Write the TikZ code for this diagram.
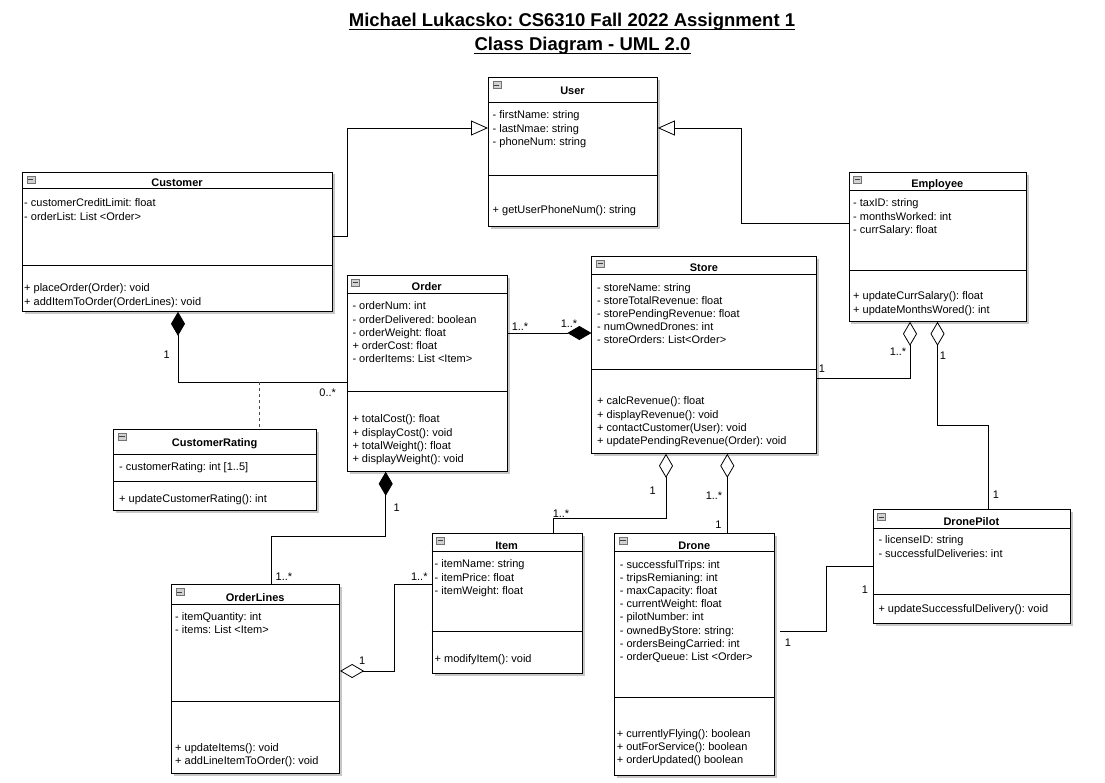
\documentclass[tikz,border=0pt]{standalone}
\usepackage{fontspec}
\setmainfont{Liberation Sans}
\usetikzlibrary{arrows.meta,shadows,calc}

\tikzset{
 classbox/.style={draw=black, fill=white, line width=0.8pt, inner sep=0pt,
   drop shadow={shadow xshift=2.5pt, shadow yshift=-2.5pt, opacity=0.22, fill=black}},
 sepline/.style={draw=black, line width=0.8pt},
 iconbox/.style={draw=black!55, fill=black!18, line width=0.5pt, inner sep=0pt, minimum width=8pt, minimum height=7pt},
 txt/.style={inner sep=0pt, font=\fontsize{11}{13.2}\selectfont\frenchspacing, text=black},
 ttl/.style={inner sep=0pt, font=\fontsize{11}{13.2}\selectfont\bfseries, text=black},
 conn/.style={draw=black, line width=0.8pt},
 gen/.style={conn, -{Triangle[open, length=17pt, width=15pt]}},
 comp/.style={conn, {Diamond[length=24pt, width=14pt]}-},
 agg/.style={conn, {Diamond[open, length=24pt, width=14pt]}-},
 mult/.style={txt, anchor=base},
 hdr/.style={inner sep=0pt, font=\fontsize{18.5}{22}\selectfont\bfseries\frenchspacing, anchor=base},
 dep/.style={draw=black!70, line width=0.8pt, dash pattern=on 3pt off 3pt},
}

% name, left, top, right, bottom, header line, divider, title y, title
\newcommand\umlclass[9]{%
 \node[classbox, anchor=north west, minimum width={#4-#2}, minimum height={#5-#3}] (#1) at (#2,#3) {};
 \draw[sepline] (#2,#6) -- (#4,#6);
 \draw[sepline] (#2,#7) -- (#4,#7);
 \node[iconbox, anchor=north west] (#1-icon) at ({#2+4.5},{#3+4}) {};
 \draw[black!75, line width=0.6pt] ($(#1-icon.west)+(1.6,0)$) -- ($(#1-icon.east)+(-1.6,0)$);
 \node[ttl, anchor=base] (#1-title) at ({(#2+#4)/2},{#8+4}) {#9};
}
% prefix, x, first y, list
\newcommand\umllines[4]{%
 \foreach \x [count=\i] in {#4} {\node[txt, anchor=base west] (#1-\i) at (#2,{#3+3.8+(\i-1)*13.2}) {\x};}
}

\begin{document}
\frenchspacing
\begin{tikzpicture}[x=1pt, y=-1pt]
\useasboundingbox[fill=white] (0,0) rectangle (1105,782);

% title
\node[hdr] (title1) at (572,26) {Michael Lukacsko: CS6310 Fall 2022 Assignment 1};
\node[hdr] (title2) at (582.5,50) {Class Diagram - UML 2.0};
\draw[line width=1.4pt] ($(title1.base west)+(0,3.3)$) -- ($(title1.base east)+(0,3.3)$);
\draw[line width=1.4pt] ($(title2.base west)+(0,3.3)$) -- ($(title2.base east)+(0,3.3)$);

% classes
\umlclass{user}{488}{77.3}{657}{226}{102}{175}{90}{User}
\umllines{user-a}{492.5}{115}{- firstName: string, - lastNmae: string, - phoneNum: string}
\umllines{user-m}{492.5}{210}{+ getUserPhoneNum(): string}

\umlclass{customer}{22}{171.5}{332}{311}{188.5}{265}{182.5}{Customer}
\umllines{customer-a}{24}{203}{- customerCreditLimit: float, - orderList: List <Order>}
\umllines{customer-m}{24}{288}{+ placeOrder(Order): void, + addItemToOrder(OrderLines): void}

\umlclass{employee}{848.5}{171.7}{1026}{321}{190}{270}{183}{Employee}
\umllines{employee-a}{853}{203}{- taxID: string, - monthsWorked: int, - currSalary: float}
\umllines{employee-m}{853}{296}{+ updateCurrSalary(): float, + updateMonthsWored(): int}

\umlclass{store}{591.4}{256}{816.4}{453}{274.3}{369}{267.5}{Store}
\umllines{store-a}{597}{287.3}{- storeName: string, - storeTotalRevenue: float, - storePendingRevenue: float, - numOwnedDrones: int, - storeOrders: List<Order>}
\umllines{store-m}{597}{401}{+ calcRevenue(): float, + displayRevenue(): void, + contactCustomer(User): void, + updatePendingRevenue(Order): void}

\umlclass{order}{346.7}{275}{506.7}{471}{293.3}{391.7}{286.7}{Order}
\umllines{order-a}{352.3}{306}{- orderNum: int, - orderDelivered: boolean, - orderWeight: float, + orderCost: float, - orderItems: List <Item>}
\umllines{order-m}{352.3}{419}{+ totalCost(): float, + displayCost(): void, + totalWeight(): float, + displayWeight(): void}

\umlclass{rating}{113.3}{429}{316}{510}{454}{481.7}{442.3}{CustomerRating}
\umllines{rating-a}{119}{466.7}{- customerRating: int [1..5]}
\umllines{rating-m}{119}{498.3}{+ updateCustomerRating(): int}

\umlclass{orderlines}{171}{584.3}{339.3}{772.7}{604}{701.7}{597.3}{OrderLines}
\umllines{orderlines-a}{175}{616.7}{- itemQuantity: int, - items: List <Item>}
\umllines{orderlines-m}{175}{747.7}{+ updateItems(): void, + addLineItemToOrder(): void}

\umlclass{item}{431.7}{532.7}{581.7}{673.3}{551.7}{631.7}{545}{Item}
\umllines{item-a}{434.5}{564}{- itemName: string, - itemPrice: float, - itemWeight: float}
\umllines{item-m}{434.5}{658.3}{+ modifyItem(): void}

\umlclass{drone}{614.3}{532.7}{774.3}{775}{551}{697.3}{545}{Drone}
\umllines{drone-a}{619.7}{564.3}{- successfulTrips: int, - tripsRemianing: int, - maxCapacity: float, - currentWeight: float, - pilotNumber: int, - ownedByStore: string:, - ordersBeingCarried: int, - orderQueue: List <Order>}
\umllines{drone-m}{616.7}{733.3}{+ currentlyFlying(): boolean, + outForService(): boolean, + orderUpdated() boolean}

\umlclass{pilot}{872.7}{509.3}{1070}{623.3}{528.3}{594.3}{521.7}{DronePilot}
\umllines{pilot-a}{878.3}{540}{- licenseID: string, - successfulDeliveries: int}
\umllines{pilot-m}{878.3}{608.3}{+ updateSuccessfulDelivery(): void}

% generalizations
\draw[gen] (customer.east |- 0,236) -- ++(15,0) |- (user.west |- 0,128);
\draw[gen] (employee.west |- 0,223) -- ++(-107,0) |- (user.east |- 0,128);

% compositions
\draw[comp] (customer.south -| 178,0) |- (order.west |- 0,382);
\coordinate (ratingjoin) at (259.3,382);
\draw[dep] (ratingjoin) -- (rating.north -| ratingjoin);
\draw[comp] (store.west |- 0,333) -- (order.east |- 0,333);
\draw[comp] (order.south -| 385.7,0) |- (271.7,536.7) -- (orderlines.north -| 271.7,0);

% aggregations
\draw[agg] (employee.south -| 910,0) |- (store.east |- 0,378);
\draw[agg] (employee.south -| 937.5,0) |- (988,425) -- (pilot.north -| 988,0);
\draw[agg] (store.south -| 666,0) |- (553.3,518.3) -- (item.north -| 553.3,0);
\draw[agg] (store.south -| 727.3,0) -- (drone.north -| 727.3,0);
\draw[agg] (orderlines.east |- 0,671) -| (394.3,584.3) -- (item.west |- 0,584.3);

% association
\draw[conn] ($(drone.east |- 0,631.3)+(5,0)$) -| (826,566.7) -- (pilot.west |- 0,566.7);

% multiplicities
\node[mult] (m1) at (520,330) {1..*};
\node[mult] (m2) at (569,327) {1..*};
\node[mult] (m3) at (822,372) {1};
\node[mult] (m4) at (898,355) {1..*};
\node[mult] (m5) at (943,359) {1};
\node[mult] (m6) at (996,498) {1};
\node[mult] (m7) at (166.7,358) {1};
\node[mult] (m8) at (327.7,396) {0..*};
\node[mult] (m9) at (396.7,511) {1};
\node[mult] (m10) at (284,580) {1..*};
\node[mult] (m11) at (362.3,664) {1};
\node[mult] (m12) at (419.3,580) {1..*};
\node[mult] (m13) at (561,517) {1..*};
\node[mult] (m14) at (652.7,494) {1};
\node[mult] (m15) at (714,499) {1..*};
\node[mult] (m16) at (718.3,528) {1};
\node[mult] (m17) at (788,646) {1};
\node[mult] (m18) at (865,593) {1};
\end{tikzpicture}
\end{document}
